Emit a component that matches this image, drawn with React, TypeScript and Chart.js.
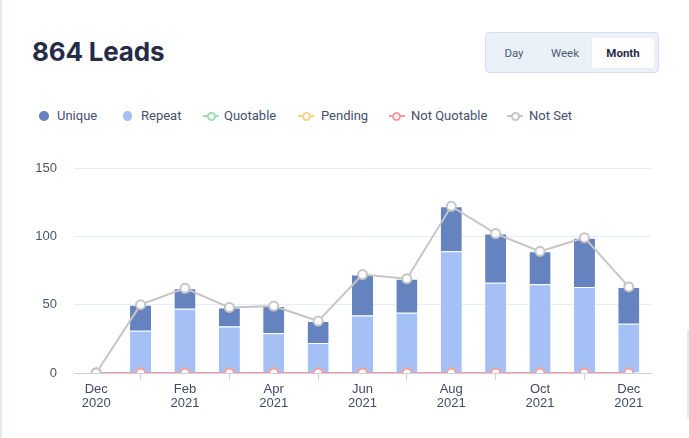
import React, { useEffect, useRef } from "react";
import { Chart, registerables } from "chart.js";

Chart.register(...registerables);

const monthLabels: string[][] = [
  ["Dec", "2020"], ["Jan", "2021"], ["Feb", "2021"], ["Mar", "2021"], ["Apr", "2021"],
  ["May", "2021"], ["Jun", "2021"], ["Jul", "2021"], ["Aug", "2021"], ["Sep", "2021"],
  ["Oct", "2021"], ["Nov", "2021"], ["Dec", "2021"],
];
const repeatValues = [0, 31, 47, 34, 29, 22, 42, 44, 89, 66, 65, 63, 36];
const uniqueValues = [0, 19, 15, 14, 20, 16, 30, 25, 33, 36, 24, 36, 27];
const notSetValues = [0, 50, 62, 48, 49, 38, 72, 69, 122, 102, 89, 99, 63];
const notQuotableValues = [0, 0, 0, 0, 0, 0, 0, 0, 0, 0, 0, 0, 0];
const pendingValues = [0, 0, 0, 0, 0, 0, 0, 0, 0, 0, 0, 0, 0];
const quotableValues = [0, 0, 0, 0, 0, 0, 0, 0, 0, 0, 0, 0, 0];
const yTicks = [0, 50, 100, 150];

const C_UNIQUE = "#6583be";
const C_REPEAT = "#a4c0f4";
const C_QUOT = "#9fdcae";
const C_PEND = "#f9d48f";
const C_NOTQ = "#f59aa3";
const C_NOTSET = "#c7c5c5";

const legendFont = "Roboto, 'Noto Sans', sans-serif";

function LineIcon({ left, color }: { left: number; color: string }) {
  return (
    <div style={{ position: "absolute", left, top: 111, width: 16, height: 10 }}>
      <div style={{ position: "absolute", left: 0, top: 4, width: 16, height: 2, background: color }} />
      <div
        style={{
          position: "absolute", left: 3.5, top: 0.5, width: 5, height: 5, borderRadius: "50%",
          border: `2px solid ${color}`, background: "#fff",
        }}
      />
    </div>
  );
}

function DotIcon({ left, color }: { left: number; color: string }) {
  return (
    <div
      style={{
        position: "absolute", left, top: 111.2, width: 9.6, height: 9.6, borderRadius: "50%", background: color,
      }}
    />
  );
}

function LegendText({ left, text }: { left: number; text: string }) {
  return (
    <div
      style={{
        position: "absolute", left, top: 107, height: 18, lineHeight: "18px", fontFamily: legendFont,
        fontSize: 13, color: "#45506e", whiteSpace: "nowrap",
      }}
    >
      {text}
    </div>
  );
}

export default function App() {
  const canvasRef = useRef<HTMLCanvasElement | null>(null);

  useEffect(() => {
    document.body.style.margin = "0";
    const canvas = canvasRef.current;
    if (!canvas) return;
    const lineDs = (label: string, data: number[], color: string, stack: string) => ({
      type: "line" as const,
      label,
      data,
      stack,
      borderColor: color,
      backgroundColor: "#ffffff",
      borderWidth: 2,
      pointRadius: 4.5,
      pointBorderWidth: 2,
      pointBorderColor: color,
      pointBackgroundColor: "#ffffff",
      tension: 0,
      fill: false,
    });
    const chart = new Chart(canvas, {
      type: "bar",
      data: {
        labels: monthLabels,
        datasets: [
          lineDs("Not Set", notSetValues, C_NOTSET, "ns"),
          lineDs("Not Quotable", notQuotableValues, C_NOTQ, "nq"),
          lineDs("Pending", pendingValues, C_PEND, "pe"),
          lineDs("Quotable", quotableValues, C_QUOT, "qu"),
          {
            type: "bar",
            label: "Repeat",
            data: repeatValues,
            stack: "leads",
            backgroundColor: C_REPEAT,
            borderColor: "#ffffff",
            borderWidth: { top: 1, left: 0, right: 0, bottom: 0 },
            borderSkipped: false,
            barPercentage: 0.475,
            categoryPercentage: 1,
          },
          {
            type: "bar",
            label: "Unique",
            data: uniqueValues,
            stack: "leads",
            backgroundColor: C_UNIQUE,
            borderColor: "#ffffff",
            borderWidth: { top: 1, left: 0, right: 0, bottom: 0 },
            borderSkipped: false,
            barPercentage: 0.475,
            categoryPercentage: 1,
          },
        ] as any,
      },
      options: {
        responsive: false,
        animation: false,
        layout: { padding: { left: 0, right: 38, top: 28, bottom: 0 } },
        plugins: { legend: { display: false }, tooltip: { enabled: false } },
        scales: {
          x: {
            stacked: true,
            offset: true,
            afterFit: (scale: any) => { scale.height = 57; },
            grid: {
              drawOnChartArea: false,
              drawTicks: true,
              tickLength: 7,
              color: "#c9d2e2",
              lineWidth: 1,
            },
            border: { display: true, color: "#c9d2e2", width: 1 },
            ticks: {
              autoSkip: false,
              maxRotation: 0,
              padding: 2,
              color: "#414b66",
              font: { family: "'Liberation Sans', Arial, sans-serif", size: 13, lineHeight: 1.08 },
              callback: function (this: any, _v: any, i: number) {
                return i % 2 === 0 ? monthLabels[i] : null;
              } as any,
            },
          },
          y: {
            stacked: true,
            min: 0,
            max: 150,
            afterFit: (scale: any) => { scale.width = 74; },
            afterBuildTicks: (scale: any) => { scale.ticks = yTicks.map((v) => ({ value: v })); },
            grid: { drawTicks: false, color: "#e8eef2", lineWidth: 1 },
            border: { display: false },
            ticks: {
              padding: 17,
              color: "#4b5468",
              font: { family: "'Liberation Sans', Arial, sans-serif", size: 13 },
            },
          },
        },
      },
    });
    return () => chart.destroy();
  }, []);

  return (
    <div
      style={{
        position: "relative", width: 689, height: 438, background: "#ffffff", overflow: "hidden",
      }}
    >
      <div style={{ position: "absolute", left: 0, top: 0, width: 2, height: 438, background: "#e5eaf1" }} />
      <div style={{ position: "absolute", left: 687, top: 330, width: 2, height: 88, background: "#e5eaf1" }} />
      <div
        style={{
          position: "absolute", left: 32, top: 36, lineHeight: "32px", fontSize: 26, fontWeight: 700,
          fontFamily: "Inter, 'Noto Sans', sans-serif", color: "#262b47", whiteSpace: "nowrap",
          letterSpacing: -0.2,
        }}
      >
        864 Leads
      </div>
      <div
        style={{
          position: "absolute", left: 485, top: 32, width: 172, height: 39, background: "#eaf1f9",
          border: "1px solid #d6e0ec", borderRadius: 4,
        }}
      >
        <div
          style={{
            position: "absolute", left: 106, top: 5, width: 62, height: 30, background: "#ffffff",
            borderRadius: 2, boxShadow: "0 0 1px rgba(0,0,0,0.08)",
          }}
        />
        {[
          { t: "Day", cx: 28, bold: false },
          { t: "Week", cx: 79, bold: false },
          { t: "Month", cx: 137, bold: true },
        ].map((b) => (
          <div
            key={b.t}
            style={{
              position: "absolute", left: b.cx - 30, width: 60, top: 11, height: 18, lineHeight: "18px",
              textAlign: "center", fontFamily: legendFont, fontSize: 11.5,
              fontWeight: b.bold ? 700 : 400, color: b.bold ? "#262b47" : "#4e5a76",
            }}
          >
            {b.t}
          </div>
        ))}
      </div>

      <DotIcon left={39} color={C_UNIQUE} />
      <LegendText left={57} text="Unique" />
      <DotIcon left={122.5} color={C_REPEAT} />
      <LegendText left={141} text="Repeat" />
      <LineIcon left={203} color={C_QUOT} />
      <LegendText left={224} text="Quotable" />
      <LineIcon left={298} color={C_PEND} />
      <LegendText left={321} text="Pending" />
      <LineIcon left={388.5} color={C_NOTQ} />
      <LegendText left={411} text="Not Quotable" />
      <LineIcon left={507} color={C_NOTSET} />
      <LegendText left={529} text="Not Set" />

      <canvas
        ref={canvasRef}
        width={689}
        height={290}
        style={{ position: "absolute", left: 0, top: 140, width: 689, height: 290 }}
      />
    </div>
  );
}
